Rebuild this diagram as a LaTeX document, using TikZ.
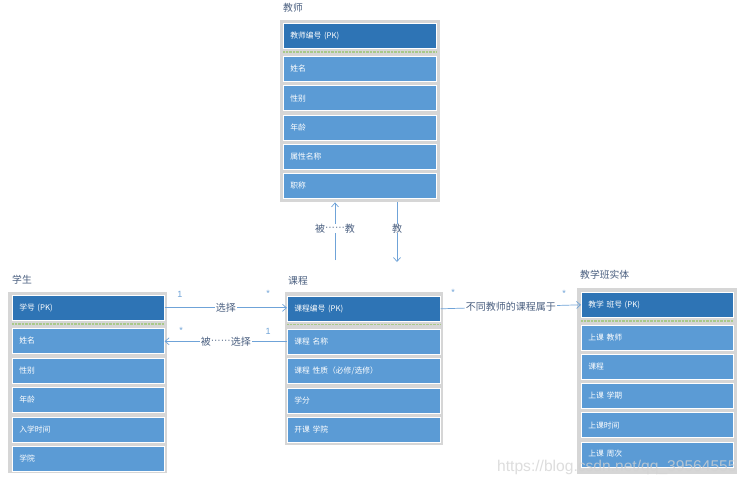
\documentclass[tikz,border=0pt]{standalone}
\usepackage{fontspec}
\newfontfamily\cjk{Noto Sans CJK SC}
\setsansfont{Liberation Sans}
\usetikzlibrary{arrows.meta}
\definecolor{frameGray}{HTML}{D6D6D6}
\definecolor{hdrBlue}{HTML}{2E74B5}
\definecolor{rowBlue}{HTML}{5B9BD5}
\definecolor{lineBlue}{HTML}{6FA3D8}
\definecolor{lblGray}{HTML}{4A5F80}
\definecolor{dotGreen}{HTML}{A9C98A}
\newcommand{\mydots}{\raisebox{1.2pt}{\sffamily\fontsize{10}{11}\selectfont ······}}
\begin{document}
\begin{tikzpicture}[x=1pt,y=-1pt,
  frame/.style={fill=frameGray,draw=none,inner sep=0pt,anchor=north west,minimum width=#1},
  cell/.style={draw=white,line width=0.6pt,anchor=north west,minimum height=25pt,
    text width=#1-14pt,inner xsep=7pt,inner ysep=0pt,align=left,text=white,
    font=\cjk\fontsize{7.8}{8.5}\selectfont},
  hdr/.style={cell=#1,fill=hdrBlue},
  rowc/.style={cell=#1,fill=rowBlue},
  ttl/.style={anchor=west,text=lblGray,font=\cjk\fontsize{9.8}{11}\selectfont,inner sep=0pt},
  sep/.style={dotGreen,line width=1.2pt,dash pattern=on 0.8pt off 0.6pt},
  conn/.style={lineBlue,line width=0.7pt,-{Straight Barb[length=4pt,width=7pt]}},
  lbl/.style={fill=white,text=lblGray,font=\cjk\fontsize{10}{11}\selectfont,inner xsep=1pt,inner ysep=0pt},
  mult/.style={text=lineBlue,font=\sffamily\fontsize{9}{10}\selectfont,inner sep=0pt}
]
\useasboundingbox (0,0) rectangle (750,483);
\fill[white] (0,0) rectangle (750,483);

% ---- 教师
\node[ttl] (tt) at (283,8) {教师};
\node[frame=160pt,minimum height=182pt] (tf) at (280,20) {};
\node[hdr=153pt] (t0) at (283,23) {教师编号 (PK)};
\draw[sep] (283,52) -- (436,52);
\node[rowc=153pt] (t1) at (283,56) {姓名};
\node[rowc=153pt] (t2) at (283,85.3) {性别};
\node[rowc=153pt] (t3) at (283,114.6) {年龄};
\node[rowc=153pt] (t4) at (283,143.9) {属性名称};
\node[rowc=153pt] (t5) at (283,173.2) {职称};

% ---- 学生
\node[ttl] (st) at (12,280) {学生};
\node[frame=159pt,minimum height=181pt] (sf) at (8,292) {};
\node[hdr=152pt] (s0) at (12,295) {学号 (PK)};
\draw[sep] (12,324) -- (164,324);
\node[rowc=152pt] (s1) at (12,328) {姓名};
\node[rowc=152pt] (s2) at (12,357.5) {性别};
\node[rowc=152pt] (s3) at (12,387) {年龄};
\node[rowc=152pt] (s4) at (12,416.5) {入学时间};
\node[rowc=152pt] (s5) at (12,446) {学院};

% ---- 课程
\node[ttl] (ct) at (288,281) {课程};
\node[frame=158pt,minimum height=153pt] (cf) at (285,292) {};
\node[hdr=153pt] (c0) at (287,296) {课程编号 (PK)};
\draw[sep] (287,324.5) -- (440,324.5);
\node[rowc=153pt] (c1) at (287,328.5) {课程 名称};
\node[rowc=153pt] (c2) at (287,358) {课程 性质（必修/选修）};
\node[rowc=153pt] (c3) at (287,387.5) {学分};
\node[rowc=153pt] (c4) at (287,417) {开课 学院};

% ---- 教学班实体
\node[ttl] (kt) at (580,275) {教学班实体};
\node[frame=160pt,minimum height=186pt] (kf) at (577,288) {};
\node[hdr=152pt] (k0) at (581,292) {教学 班号 (PK)};
\draw[sep] (581,321) -- (733,321);
\node[rowc=152pt] (k1) at (581,324.5) {上课 教师};
\node[rowc=152pt] (k2) at (581,353.8) {课程};
\node[rowc=152pt] (k3) at (581,383.1) {上课 学期};
\node[rowc=152pt] (k4) at (581,412.4) {上课时间};
\node[rowc=152pt,text depth=0pt] (k5) at (581,441.7) {\raisebox{3pt}{上课 周次}};

% ---- connectors
\coordinate (a1) at (335,260);
\draw[conn] (a1) -- node[lbl,pos=0.55] {被\mydots 教} (a1 |- tf.south);
\coordinate (a2) at (397,262);
\draw[conn] (a2 |- tf.south) -- node[lbl,pos=0.44] {教} (a2);

\draw[conn] (s0.east) -- node[lbl,pos=0.5] {选择} (s0.east -| c0.west);
\node[mult] (m1) at (180,294) {1};
\node[mult] (m2) at (268,293) {*};

\draw[conn] (c1.west) -- node[lbl,pos=0.5] {被\mydots 选择} (c1.west -| s1.east);
\node[mult] (m3) at (181,330) {*};
\node[mult] (m4) at (268,331) {1};

\draw[conn] (c0.east) -- node[lbl,pos=0.5] {不同教师的课程属于} (k0.west);
\node[mult] (m5) at (453,292) {*};
\node[mult] (m6) at (564,293) {*};

% ---- watermark
\node[anchor=west,inner sep=0pt,text=white!65!gray,opacity=0.75,
  font=\sffamily\fontsize{15.6}{17}\selectfont] (wm) at (497,467) {https://blog.csdn.net/qq\_39564555};
\end{tikzpicture}
\end{document}
